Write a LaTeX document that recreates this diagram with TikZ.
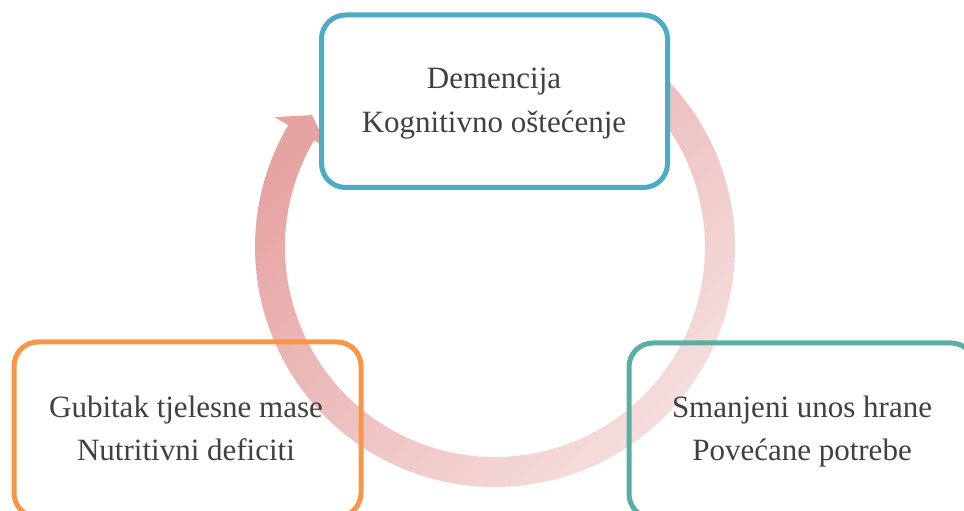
\documentclass[tikz,border=0pt]{standalone}
\usepackage{fontspec}
\setmainfont{Liberation Serif}
\definecolor{txt}{HTML}{404040}
\definecolor{blueb}{HTML}{4BACC6}
\definecolor{orangeb}{HTML}{F79646}
\definecolor{tealb}{HTML}{5AAFA2}
\definecolor{arrdark}{RGB}{231,162,162}
\definecolor{arrlight}{RGB}{246,226,226}
\tikzset{
  cbox/.style={draw, line width=5pt, rounded corners=24pt, inner sep=0pt},
  ltext/.style={anchor=base, text=txt, font=\fontsize{31}{44}\selectfont, inner sep=0pt},
}
\begin{document}
\begin{tikzpicture}[x=1pt, y=1pt]
\useasboundingbox (0,0) rectangle (964,511);
\clip (0,0) rectangle (964,511);
% circular arrow
\begin{scope}[shift={(495,264)}]
\shade[top color=arrdark, bottom color=arrlight, shading angle=45]
  (50:240) arc[start angle=50, end angle=-210.5, radius=240]
  -- (149.5:256) -- (144.2:225.5) -- (149.5:194) -- (149.5:210)
  arc[start angle=-210.5, end angle=50, radius=210] -- cycle;
\end{scope}
% boxes
\node[cbox, draw=blueb, fill=white, minimum width=346pt, minimum height=172.5pt] (top) at (494.5,409.75) {};
\node[cbox, draw=orangeb, minimum width=347pt, minimum height=175pt] (left) at (187.5,81.5) {};
\node[cbox, draw=tealb, minimum width=346pt, minimum height=175pt] (right) at (802,80.5) {};
% texts
\node[ltext] (t1) at (494,422) {Demencija};
\node[ltext] (t2) at (494,378) {Kognitivno oštećenje};
\node[ltext] (l1) at (186,93) {Gubitak tjelesne mase};
\node[ltext] (l2) at (186,50) {Nutritivni deficiti};
\node[ltext] (r1) at (802,93) {Smanjeni unos hrane};
\node[ltext] (r2) at (802,50) {Povećane potrebe};
\end{tikzpicture}
\end{document}
